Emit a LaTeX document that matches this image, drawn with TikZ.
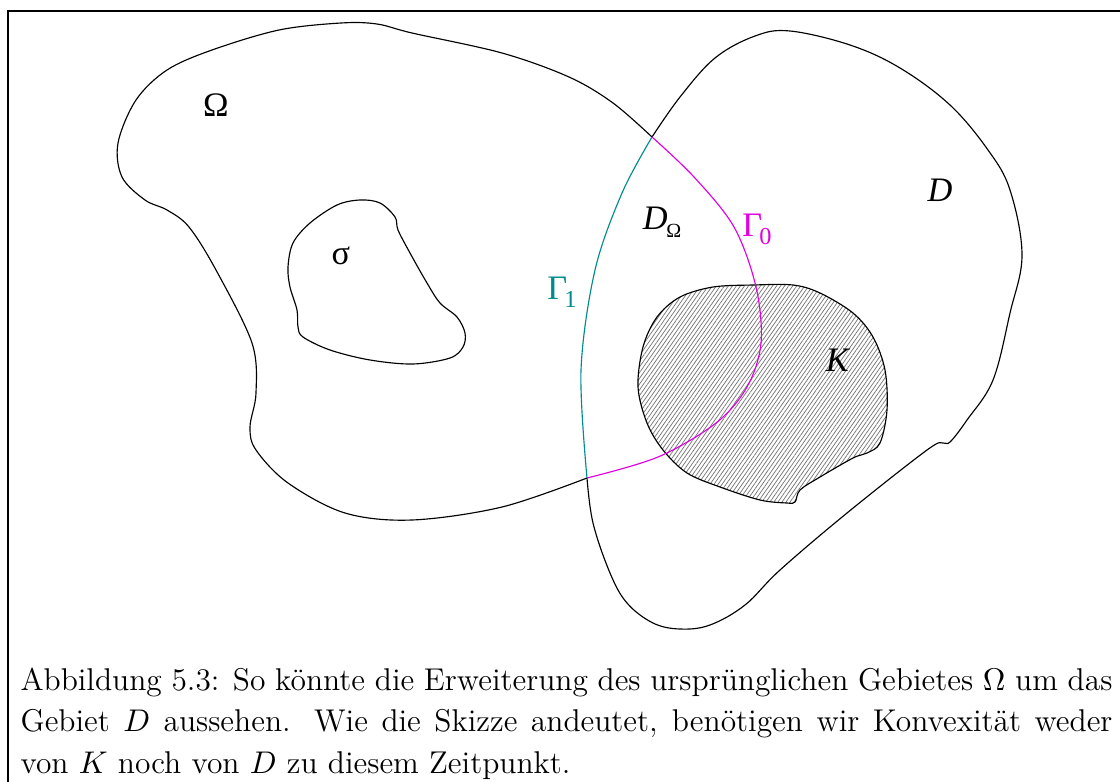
\documentclass[tikz,border=0pt]{standalone}
\usepackage{fontspec}
\usepackage{xcolor}
\usetikzlibrary{patterns.meta}
\newfontfamily\skizzenfont{Liberation Serif}
\definecolor{gammanull}{rgb}{0.88,0,0.88}
\definecolor{gammaeins}{rgb}{0,0.55,0.55}
\newcommand{\tiefer}[2]{\raisebox{-2.8pt}{\fontsize{#1}{#1}\selectfont #2}}

\begin{document}
\begin{tikzpicture}[x=0.3494pt,y=-0.3494pt,
  etikett/.style={inner sep=0pt,font=\skizzenfont\fontsize{12}{14}\selectfont},
  rand/.style={line width=0.4pt}]
\useasboundingbox (0,0) rectangle (1120,781);
\draw[line width=1pt] (8,800)--(8,11)--(1140,11);
\coordinate (schnittoben) at (652,137);
\coordinate (schnittunten) at (587,478);
\draw[rand,pattern={Lines[angle=55,distance=1.15pt,line width=0.25pt]},pattern color=black!55] plot[smooth cycle,tension=0.55] coordinates {(753,285) (793,285) (820,293) (853,313) (873,337) (885,370) (887,410) (880,443) (867,453) (853,458) (820,477) (800,490) (795,502) (787,503) (760,500) (720,487) (687,473) (663,450) (647,423) (638,387) (643,347) (657,317) (680,297) (713,287)};
\draw[rand] plot[smooth,tension=0.55] coordinates {(schnittoben) (613,103) (569,77) (502,53) (412,33) (377,24) (341,23) (279,30) (212,50) (167,70) (136,100) (118,143) (122,177) (145,200) (167,210) (189,227) (216,270) (252,343) (256,393) (250,427) (256,450) (288,483) (345,513) (412,520) (502,507) (schnittunten)};
\draw[rand] plot[smooth cycle,tension=0.55] coordinates {(360,200) (380,203) (395,217) (398,230) (410,253) (427,283) (440,303) (457,317) (465,333) (463,347) (450,358) (413,364) (370,360) (330,350) (303,337) (298,327) (297,310) (290,287) (288,267) (293,243) (310,223) (337,205)};
\draw[rand] plot[smooth,tension=0.6] coordinates {(schnittunten) (593,523) (610,573) (627,603) (653,623) (680,629) (710,625) (745,605) (780,570) (847,513) (927,450) (943,443) (950,442) (967,420) (993,380) (1010,313) (1022,255) (1010,190) (988,150) (950,105) (900,68) (850,45) (790,31) (755,36) (715,58) (680,97) (schnittoben)};
\draw[rand,gammanull] plot[smooth,tension=0.55] coordinates {(schnittoben) (694,177) (734,227) (756,287) (761,343) (747,387) (716,423) (658,457) (schnittunten)};
\draw[rand,gammaeins] plot[smooth,tension=0.55] coordinates {(schnittoben) (622,193) (595,270) (581,370) (schnittunten)};
\node[etikett] (omega) at (216,105) {Ω};
\node[etikett] (sigma) at (341,256) {σ};
\node[etikett] (domega) at (662,222) {\textit{D}\kern-0.5pt\tiefer{7}{Ω}};
\node[etikett,gammanull] (gnull) at (757,229) {Γ\kern-1pt\tiefer{8.5}{0}};
\node[etikett,gammaeins] (geins) at (562,292) {Γ\kern-1pt\tiefer{8.5}{1}};
\node[etikett] (dlabel) at (940,190) {\textit{D}};
\node[etikett] (klabel) at (838,360) {\textit{K}};
\node[anchor=base west,inner sep=0pt,text width=381.5pt,align=justify,font=\fontsize{11}{14.5}\selectfont] (unterschrift) at (20,690) {Abbildung 5.3: So könnte die Erweiterung des ursprünglichen Gebietes $\Omega$ um das\linebreak Gebiet $D$ aussehen. Wie die Skizze andeutet, benötigen wir Konvexität weder\linebreak von $K$ noch von $D$ zu diesem Zeitpunkt.};
\end{tikzpicture}
\end{document}
